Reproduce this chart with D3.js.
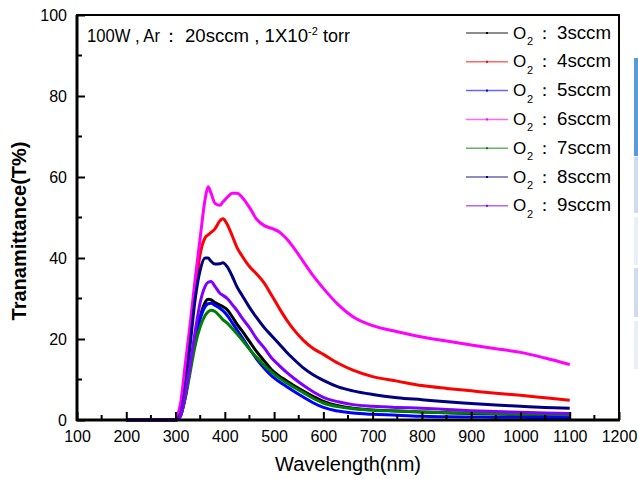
<!DOCTYPE html>
<html>
<head>
<meta charset="utf-8">
<script src="https://cdn.jsdelivr.net/npm/d3@7"></script>
<style>
  html, body { margin: 0; padding: 0; background: #fff; }
  svg { display: block; font-family: "Liberation Sans", Arial, sans-serif; }
</style>
</head>
<body>
<svg id="chart" width="638" height="479"></svg>
<script>
// wavelength (nm) at which each series is sampled
const wavelengths = [200, 300, 305, 310, 320, 330, 340, 350, 360, 366,
  372, 380, 390, 396, 405, 415, 425, 435, 450, 465,
  480, 495, 510, 525, 540, 560, 580, 600, 630, 660,
  700, 750, 800, 850, 900, 950, 1000, 1050, 1100];

// transmittance (%) per O2 flow
const o2_3sccm = [0, 0, 0.2, 1, 6, 13, 20, 25.5, 29, 29.8,
  29.7, 29, 28.4, 28, 27.2, 25.5, 23.6, 22, 19.4, 16.8,
  14.6, 12.4, 10.9, 9.7, 8.5, 7.1, 5.8, 4.6, 3.5, 2.9,
  2.5, 2.2, 2, 1.8, 1.6, 1.5, 1.4, 1.3, 1.2];
const o2_4sccm = [0, 0, 0.5, 2.5, 11, 21, 32, 41, 45, 45.7,
  46.3, 47.2, 49.2, 49.7, 48.3, 45.5, 42.5, 40.5, 37.9, 36,
  33.8, 30.8, 27.7, 24.8, 22.3, 19.6, 17.6, 16.2, 14, 12.3,
  10.7, 9.6, 8.5, 7.8, 7.2, 6.6, 6.1, 5.5, 4.9];
const o2_5sccm = [0, 0, 0.2, 1, 6, 13, 20, 25, 28, 28.7,
  28.8, 28.3, 27.6, 27, 25.8, 24, 22.2, 20.4, 17.6, 15,
  12.8, 10.9, 9.5, 8.3, 7.1, 5.6, 4.2, 3.1, 2.2, 1.7,
  1.4, 1.2, 0.9, 0.8, 0.75, 0.7, 0.65, 0.6, 0.6];
const o2_6sccm = [0, 0, 1.5, 4, 14, 24, 35, 45, 54.5, 57.6,
  56, 53.5, 53, 53.8, 55, 56, 56, 55, 52.5, 49.5,
  48, 47.3, 46.5, 44.8, 42.5, 39, 35.5, 32.5, 28.5, 25.5,
  23.3, 21.8, 20.5, 19.5, 18.5, 17.6, 16.7, 15.3, 13.7];
const o2_7sccm = [0, 0, 0.2, 1, 5.5, 12, 18.5, 23, 25.8, 26.7,
  27.1, 26.8, 25.6, 24.8, 23.9, 22.6, 21.2, 19.8, 17.5, 15.4,
  13.5, 11.8, 10.4, 9.2, 8.1, 6.7, 5.3, 4.2, 3.3, 2.8,
  2.4, 2.2, 2, 1.8, 1.7, 1.6, 1.5, 1.4, 1.3];
const o2_8sccm = [0, 0, 0.3, 1.5, 8, 19, 30, 37, 40, 40,
  39.2, 38.5, 38.6, 38.8, 37.8, 35.5, 32.8, 30.8, 27.8, 25.2,
  22.8, 20.8, 18.8, 16.8, 15, 12.8, 11.1, 9.8, 8.2, 7.2,
  6.3, 5.5, 5, 4.5, 4.1, 3.7, 3.4, 3.1, 2.9];
const o2_9sccm = [0, 0, 0.2, 1, 6.5, 14, 22, 29, 33, 34,
  34.2, 33, 31.3, 30.8, 30, 28.5, 27, 25.2, 22.8, 20,
  17.8, 15.3, 13.5, 11.8, 10.3, 8.5, 6.9, 5.6, 4.5, 3.8,
  3.4, 3.1, 2.9, 2.6, 2.3, 2.1, 1.9, 1.7, 1.6];

const seriesNames = ["3sccm", "4sccm", "5sccm", "6sccm", "7sccm", "8sccm", "9sccm"];
const seriesValues = [o2_3sccm, o2_4sccm, o2_5sccm, o2_6sccm, o2_7sccm, o2_8sccm, o2_9sccm];
const seriesColors = ["#000000", "#ff0000", "#0000ff", "#ff00ff", "#008000", "#000080", "#8000ff"];

const xTicks = [100, 200, 300, 400, 500, 600, 700, 800, 900, 1000, 1100, 1200];
const yTicks = [0, 20, 40, 60, 80, 100];

var svg = d3.select("#chart");

var plotLeft = 77, plotRight = 619, plotTop = 15, plotBottom = 420;

var x = d3.scaleLinear().domain([100, 1200]).range([plotLeft, plotRight]);
var y = d3.scaleLinear().domain([0, 100]).range([plotBottom, plotTop]);

// side strip of the screenshot this was cut from
var strip = [
  {y0: 58, y1: 156, c: "#5b9bd5"},
  {y0: 157, y1: 213, c: "#cfdbee"},
  {y0: 217, y1: 265, c: "#e9eef7"},
  {y0: 268, y1: 317, c: "#cfdbee"},
  {y0: 321, y1: 369, c: "#e9eef7"}
];
svg.selectAll(".strip").data(strip).enter().append("rect")
  .attr("x", 634).attr("width", 4)
  .attr("y", function(d) { return d.y0; })
  .attr("height", function(d) { return d.y1 - d.y0; })
  .attr("fill", function(d) { return d.c; });

// curves
var line = d3.line()
  .x(function(d) { return x(d[0]); })
  .y(function(d) { return y(d[1]); })
  .curve(d3.curveMonotoneX);

seriesValues.forEach(function(vals, i) {
  var pts = wavelengths.map(function(w, j) { return [w, vals[j]]; });
  svg.append("path")
    .attr("d", line(pts))
    .attr("fill", "none")
    .attr("stroke", seriesColors[i])
    .attr("stroke-width", 3)
    .attr("stroke-linejoin", "round");
});

// axes, ticks inside the frame
var xAxis = d3.axisBottom(x).tickValues(xTicks).tickFormat(d3.format("d")).tickSize(-8).tickPadding(13);
var yAxis = d3.axisLeft(y).tickValues(yTicks).tickFormat(d3.format("d")).tickSize(-8).tickPadding(10);

var gx = svg.append("g").attr("transform", "translate(0," + plotBottom + ")").call(xAxis);
var gy = svg.append("g").attr("transform", "translate(" + plotLeft + ",0)").call(yAxis);

[gx, gy].forEach(function(g) {
  g.select(".domain").remove();
  g.selectAll("line").attr("stroke", "#000").attr("stroke-width", 2);
  g.selectAll("text").attr("fill", "#000").attr("font-size", 16)
    .attr("font-family", "Liberation Sans, Arial, sans-serif");
});
gx.selectAll("text").attr("dy", null).attr("y", 21.5);

// minor ticks
svg.append("g").selectAll("line")
  .data(d3.range(150, 1200, 100)).enter().append("line")
  .attr("x1", function(d) { return x(d); }).attr("x2", function(d) { return x(d); })
  .attr("y1", plotBottom).attr("y2", plotBottom - 5)
  .attr("stroke", "#000").attr("stroke-width", 2);
svg.append("g").selectAll("line")
  .data(d3.range(10, 100, 20)).enter().append("line")
  .attr("y1", function(d) { return y(d); }).attr("y2", function(d) { return y(d); })
  .attr("x1", plotLeft).attr("x2", plotLeft + 5)
  .attr("stroke", "#000").attr("stroke-width", 2);

// frame
svg.append("rect")
  .attr("x", plotLeft).attr("y", plotTop)
  .attr("width", plotRight - plotLeft).attr("height", plotBottom - plotTop)
  .attr("fill", "none").attr("stroke", "#000").attr("stroke-width", 2);
svg.append("line").attr("x1", plotLeft).attr("x2", plotLeft).attr("y1", plotTop).attr("y2", plotBottom + 1)
  .attr("stroke", "#000").attr("stroke-width", 3);
svg.append("line").attr("x1", plotLeft - 1).attr("x2", plotRight + 1).attr("y1", plotBottom).attr("y2", plotBottom)
  .attr("stroke", "#000").attr("stroke-width", 3);

// axis titles
svg.append("text")
  .attr("x", 348).attr("y", 471)
  .attr("text-anchor", "middle").attr("font-size", 20)
  .text("Wavelength(nm)");

svg.append("text")
  .attr("transform", "translate(26,231) rotate(-90)")
  .attr("text-anchor", "middle").attr("font-size", 20).attr("font-weight", "bold")
  .text("Tranamittance(T%)");

// condition note (pieces stretched to the widths seen in the original)
var note = svg.append("g").attr("font-size", 17.5);
note.append("text").attr("x", 87).attr("y", 42)
  .attr("textLength", 73).attr("lengthAdjust", "spacingAndGlyphs").text("100W , Ar");
note.append("text").attr("x", 162).attr("y", 42).text("：");
note.append("text").attr("x", 185).attr("y", 42)
  .attr("textLength", 123).attr("lengthAdjust", "spacingAndGlyphs").text("20sccm , 1X10");
note.append("text").attr("x", 308).attr("y", 35).attr("font-size", 11).text("-2");
note.append("text").attr("x", 323).attr("y", 42)
  .attr("textLength", 27).attr("lengthAdjust", "spacingAndGlyphs").text("torr");

// legend
var legend = svg.append("g");
seriesNames.forEach(function(name, i) {
  var ly = 33 + i * 28.8;
  legend.append("line")
    .attr("x1", 466).attr("x2", 508).attr("y1", ly).attr("y2", ly)
    .attr("stroke", seriesColors[i]).attr("stroke-width", 1.5).attr("stroke-opacity", 0.6);
  legend.append("rect")
    .attr("x", 486).attr("y", ly - 1).attr("width", 2).attr("height", 2)
    .attr("fill", seriesColors[i]);
  legend.append("text").attr("x", 513).attr("y", ly + 5.5).attr("font-size", 17).text("O");
  legend.append("text").attr("x", 527).attr("y", ly + 12).attr("font-size", 11).text("2");
  legend.append("text").attr("x", 536).attr("y", ly + 5.5).attr("font-size", 17).text("：");
  legend.append("text").attr("x", 557).attr("y", ly + 5.5).attr("font-size", 17.5)
    .attr("textLength", 54).attr("lengthAdjust", "spacingAndGlyphs").text(name);
});
</script>
</body>
</html>
